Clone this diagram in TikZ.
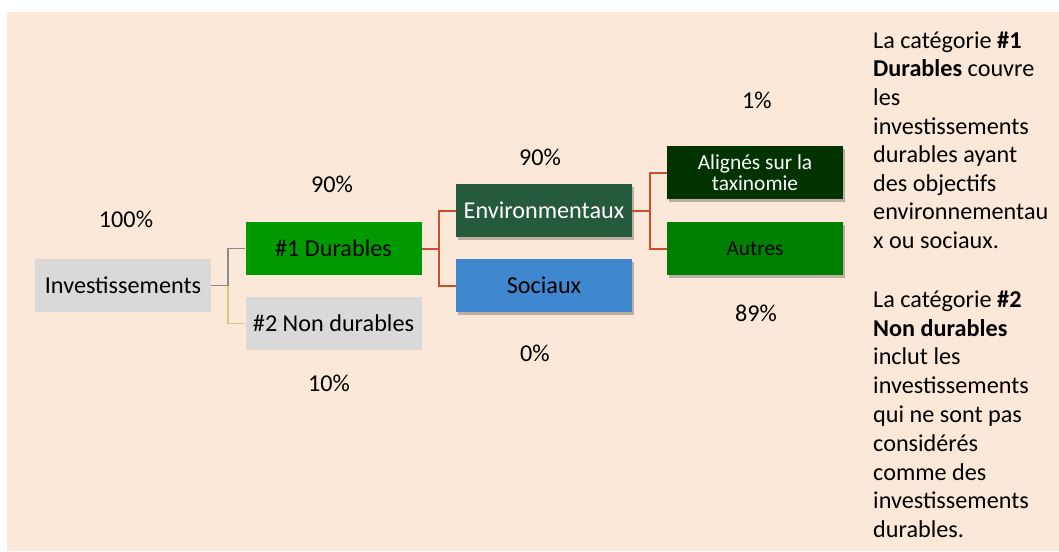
\documentclass[tikz,border=0pt]{standalone}
\usepackage{fontspec}
\setmainfont{Carlito}
\usetikzlibrary{shadows}

\definecolor{peach}{HTML}{FBE8D8}
\definecolor{boxgray}{HTML}{D9D9D9}
\definecolor{durgreen}{HTML}{009900}
\definecolor{envgreen}{HTML}{265A3C}
\definecolor{socblue}{HTML}{3F88CF}
\definecolor{taxgreen}{HTML}{003300}
\definecolor{autgreen}{HTML}{008000}
\definecolor{forkred}{HTML}{C8512C}
\definecolor{forkgray}{HTML}{8C8C8C}
\definecolor{forkyellow}{HTML}{D6C77A}

\begin{document}
\begin{tikzpicture}[x=1pt,y=-1pt]
\tikzset{every node/.style={inner sep=0pt},
  catbox/.style={minimum width=176pt, minimum height=53pt, font=\fontsize{24.2}{28}\selectfont},
  subbox/.style={catbox, font=\fontsize{21.4}{21.5}\selectfont},
  boxshadow/.style={drop shadow={shadow xshift=2pt, shadow yshift=-3pt, opacity=0.25, fill=black}},
  pct/.style={font=\fontsize{24.2}{28}\selectfont},
  note/.style={anchor=north west, align=left, font=\fontsize{24.2}{28.6}\selectfont},
  redfork/.style={draw=forkred, line width=2pt},
}
\useasboundingbox (0,0) rectangle (1059,551);
\fill [peach] (7,12) rectangle (1059,551);

% boxes
\node [catbox, fill=boxgray] (inv) at (123,285.5) {Investissements};
\node [catbox, fill=durgreen] (dur) at (333.5,248.5) {\#1 Durables};
\node [catbox, fill=boxgray] (nondur) at (333.5,323.5) {\#2 Non durables};
\node [catbox, fill=envgreen, text=white, boxshadow] (env) at (544,210.5) {Environmentaux};
\node [catbox, fill=socblue, boxshadow] (soc) at (544,285.5) {Sociaux};
\node [subbox, fill=taxgreen, text=white, align=center, boxshadow] (tax) at (755,172.5) {Alignés sur la\\taxinomie};
\node [subbox, fill=autgreen, boxshadow] (aut) at (755,248.5) {Autres};

% percentages
\node [pct] (p1) at (126,219) {100\%};
\node [pct] (p2) at (332,184) {90\%};
\node [pct] (p3) at (329,383) {10\%};
\node [pct] (p4) at (540,157) {90\%};
\node [pct] (p5) at (535,353) {0\%};
\node [pct] (p6) at (757,100) {1\%};
\node [pct] (p7) at (756,313) {89\%};

% connectors
\coordinate (fork1) at (228,285.5);
\coordinate (fork2) at (438.5,248.5);
\coordinate (fork3) at (649.5,210.5);
\draw [forkgray, line width=1.5pt] (inv.east) -- (fork1) |- (dur.west);
\draw [forkyellow, line width=1.5pt] (fork1) |- (nondur.west);
\draw [redfork] (dur.east) -- (fork2) |- (env.west);
\draw [redfork] (fork2) |- (soc.west);
\draw [redfork] (env.east) -- (fork3) |- (tax.west);
\draw [redfork] (fork3) |- (aut.west);

% notes
\node [note] (note1) at (873,31.5) {La catégorie \textbf{\#1}\\\textbf{Durables} couvre\\les\\investissements\\durables ayant\\des objectifs\\environnementau\\x ou sociaux.};
\node [note, font=\fontsize{24.2}{28.8}\selectfont] (note2) at (873,290.5) {La catégorie \textbf{\#2}\\\textbf{Non durables}\\inclut les\\investissements\\qui ne sont pas\\considérés\\comme des\\investissements\\durables.};
\end{tikzpicture}
\end{document}
